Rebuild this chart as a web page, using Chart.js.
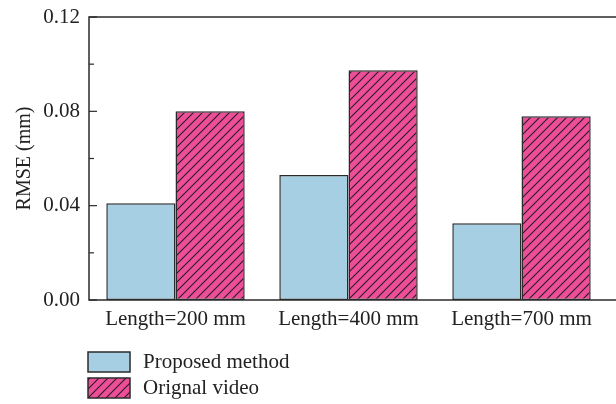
<!DOCTYPE html>
<html>
<head>
<meta charset="utf-8">
<script src="https://cdn.jsdelivr.net/npm/chart.js@4.4.1/dist/chart.umd.min.js"></script>
<style>
  body { margin: 0; background: #fff; }
  canvas { display: block; }
</style>
</head>
<body>
<canvas id="rmseChart" width="616" height="404"></canvas>
<script>
// data
const categories = ["Length=200 mm", "Length=400 mm", "Length=700 mm"];
const seriesNames = ["Proposed method", "Orignal video"];
const proposedValues = [0.041, 0.053, 0.0325];
const originalValues = [0.080, 0.0974, 0.0779];
const yMin = 0;
const yMax = 0.12;
const yStep = 0.02;   // minor step, labels every 0.04

const FONT = "'Liberation Serif', 'DejaVu Serif', serif";
const BLUE = "#a7cfe4";
const PINK = "#ec4f98";
const EDGE = "#2b2b2b";

function makeHatch() {
    const c = document.createElement("canvas");
    c.width = 9;
    c.height = 9;
    const g = c.getContext("2d");
    g.fillStyle = PINK;
    g.fillRect(0, 0, 9, 9);
    g.strokeStyle = "#2a1a22";
    g.lineWidth = 1.1;
    g.beginPath();
    g.moveTo(-1, 10); g.lineTo(10, -1);
    g.moveTo(-5, 5); g.lineTo(5, -5);
    g.moveTo(4, 14); g.lineTo(14, 4);
    g.stroke();
    return g.createPattern(c, "repeat");
}

const hatch = makeHatch();
const fills = [BLUE, hatch];

// axes frame, inward ticks and legend
const framePlugin = {
    id: "frame",
    afterDraw(chart) {
        const ctx = chart.ctx;
        const a = chart.chartArea;
        const y = chart.scales.y;
        ctx.save();
        ctx.strokeStyle = EDGE;
        ctx.lineWidth = 1.5;
        ctx.beginPath();
        ctx.moveTo(a.left, a.top);
        ctx.lineTo(a.left, a.bottom);
        ctx.moveTo(a.left - 0.75, a.top);
        ctx.lineTo(chart.width, a.top);
        ctx.moveTo(a.left - 0.75, a.bottom);
        ctx.lineTo(chart.width, a.bottom);
        ctx.stroke();

        ctx.lineWidth = 1.2;
        y.ticks.forEach(t => {
            const py = y.getPixelForValue(t.value);
            const major = Math.round(t.value * 100) % 4 === 0;
            ctx.beginPath();
            ctx.moveTo(a.left, py);
            ctx.lineTo(a.left + (major ? 8 : 5), py);
            ctx.stroke();
        });

        // legend, stacked vertically under the x labels
        ctx.font = "21px " + FONT;
        ctx.textBaseline = "middle";
        ctx.textAlign = "left";
        chart.data.datasets.forEach((ds, i) => {
            const top = 352 + i * 26;
            ctx.fillStyle = ds.backgroundColor;
            ctx.fillRect(88, top, 42, 20);
            ctx.strokeStyle = EDGE;
            ctx.lineWidth = 1.5;
            ctx.strokeRect(88, top, 42, 20);
            ctx.fillStyle = "#222";
            ctx.fillText(ds.label, 143, top + 10);
        });
        ctx.restore();
    }
};

new Chart(document.getElementById("rmseChart"), {
    type: "bar",
    data: {
        labels: categories,
        datasets: [proposedValues, originalValues].map((vals, i) => ({
            label: seriesNames[i],
            data: vals,
            backgroundColor: fills[i],
            borderColor: EDGE,
            borderWidth: 1.5,
            borderSkipped: false,
            categoryPercentage: 0.8,
            barPercentage: 1.0
        }))
    },
    options: {
        responsive: false,
        animation: false,
        devicePixelRatio: 1,
        layout: { padding: { top: 17, right: 8, left: 0, bottom: 0 } },
        plugins: {
            legend: { display: false },
            tooltip: { enabled: false }
        },
        scales: {
            x: {
                grid: { display: false, drawTicks: false },
                border: { display: false },
                ticks: {
                    color: "#222",
                    padding: 7,
                    font: { family: FONT, size: 21 }
                },
                afterFit(scale) {
                    scale.height = 104;
                    scale.paddingLeft = 0;
                    scale.paddingRight = 0;
                }
            },
            y: {
                min: yMin,
                max: yMax,
                grid: { display: false, drawTicks: false },
                border: { display: false },
                ticks: {
                    stepSize: yStep,
                    autoSkip: false,
                    color: "#222",
                    padding: 9,
                    font: { family: FONT, size: 21 },
                    callback: v => Math.round(v * 100) % 4 === 0 ? v.toFixed(2) : ""
                },
                title: {
                    display: true,
                    text: "RMSE (mm)",
                    color: "#222",
                    font: { family: FONT, size: 20 },
                    padding: { top: 13, bottom: 0 }
                },
                afterFit(scale) {
                    scale.width = 89;
                    scale.paddingTop = 0;
                    scale.paddingBottom = 0;
                }
            }
        }
    },
    plugins: [framePlugin]
});
</script>
</body>
</html>
